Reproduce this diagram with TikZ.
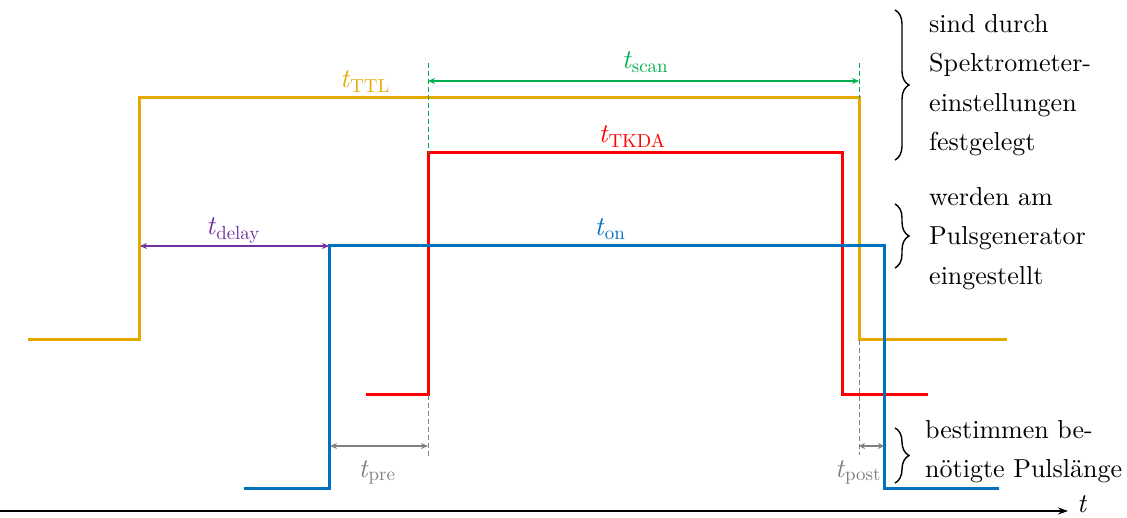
\documentclass[tikz,border=0pt]{standalone}
\usepackage{fontspec}
\setmainfont{lmroman10-regular.otf}[ItalicFont=lmroman10-italic.otf,BoldFont=lmroman10-bold.otf]
\usetikzlibrary{arrows.meta,decorations.pathreplacing}
\definecolor{ttlc}{RGB}{229,170,0}
\definecolor{tkdac}{RGB}{255,0,0}
\definecolor{onc}{RGB}{0,112,192}
\definecolor{scanc}{RGB}{0,176,80}
\definecolor{delayc}{RGB}{112,48,160}
\definecolor{greyc}{RGB}{128,128,128}
\newcommand{\tl}[1]{\textit{t}\textsubscript{#1}}
\begin{document}
\begin{tikzpicture}[x=1pt,y=-1pt,
  sig/.style={line width=3pt,line join=miter},
  dim/.style={line width=1.8pt,{Stealth[length=7pt,width=6pt]}-{Stealth[length=7pt,width=6pt]}},
  guide/.style={line width=0.9pt,dash pattern=on 5pt off 3pt},
  lbl/.style={font=\fontsize{27}{32}\selectfont,inner sep=0pt,anchor=base},
  note/.style={font=\fontsize{26}{39.5}\selectfont,align=left,inner sep=0pt,anchor=north west},
  brc/.style={line width=1.4pt,decorate,decoration={brace,amplitude=14pt}}]
\useasboundingbox (0,0) rectangle (1127,518);
% time axis
\coordinate (ax0) at (0,511);
\coordinate (ax1) at (1068,511);
\draw[line width=1.5pt,-{Stealth[length=10pt,width=7pt]}] (ax0) -- (ax1);
\node[lbl,anchor=base west] (tax) at (1077,512) {\textit{t}};
% TTL signal
\coordinate (y0) at (28,340); \coordinate (y1) at (139,340); \coordinate (y2) at (139,98);
\coordinate (y3) at (859,98); \coordinate (y4) at (859,340); \coordinate (y5) at (1007,340);
\draw[sig,ttlc] (y0) -- (y1) -- (y2) -- (y3) -- (y4) -- (y5);
% TKDA signal
\coordinate (r0) at (366,395); \coordinate (r1) at (428,395); \coordinate (r2) at (428,153);
\coordinate (r3) at (842,153); \coordinate (r4) at (842,395); \coordinate (r5) at (928,395);
\draw[sig,tkdac] (r0) -- (r1) -- (r2) -- (r3) -- (r4) -- (r5);
% on signal
\coordinate (b0) at (244,488); \coordinate (b1) at (329,488); \coordinate (b2) at (329,246);
\coordinate (b3) at (884,246); \coordinate (b4) at (884,488); \coordinate (b5) at (999,488);
\draw[sig,onc] (b0) -- (b1) -- (b2) -- (b3) -- (b4) -- (b5);
% scan guides and arrow
\coordinate (sg1) at (428,63); \coordinate (sg2) at (859,63);
\draw[guide,scanc] (sg1) -- (r2);
\draw[guide,scanc] (sg2) -- (y3);
\coordinate (sa1) at (428,81); \coordinate (sa2) at (859,81);
\draw[dim,scanc] (sa1) -- (sa2);
% delay arrow
\coordinate (da1) at (140,246);
\draw[dim,delayc] (da1) -- (b2);
% pre / post guides and arrows
\coordinate (pg) at (428,457); \coordinate (qg) at (859,455);
\draw[guide,greyc] (r1) -- (pg);
\draw[guide,greyc] (y4) -- (qg);
\coordinate (pa1) at (330,446); \coordinate (pa2) at (428,446);
\draw[dim,greyc] (pa1) -- (pa2);
\coordinate (qa1) at (859,446); \coordinate (qa2) at (884,446);
\draw[dim,greyc,{Stealth[length=6pt,width=6pt]}-{Stealth[length=6pt,width=6pt]}] (qa1) -- (qa2);
% labels
\node[lbl,text=ttlc] (lttl) at (365,88) {\tl{TTL}};
\node[lbl,text=scanc] (lscan) at (645,69) {\tl{scan}};
\node[lbl,text=tkdac] (ltkda) at (632,143) {\tl{TKDA}};
\node[lbl,text=onc] (lon) at (610,236) {\tl{on}};
\node[lbl,text=delayc] (ldelay) at (233,235) {\tl{delay}};
\node[lbl,text=greyc] (lpre) at (377,477) {\tl{pre}};
\node[lbl,text=greyc] (lpost) at (858,477) {\tl{post}};
% braces
\coordinate (br1a) at (895,10); \coordinate (br1b) at (895,160);
\draw[brc] (br1a) -- (br1b);
\coordinate (br2a) at (895,204); \coordinate (br2b) at (895,268);
\draw[brc] (br2a) -- (br2b);
\coordinate (br3a) at (895,428); \coordinate (br3b) at (895,483);
\draw[brc] (br3a) -- (br3b);
\node[note] (n1) at (929,14) {sind durch\\Spektrometer-\\einstellungen\\festgelegt};
\node[note] (n2) at (929,187) {werden am\\Pulsgenerator\\eingestellt};
\node[note] (n3) at (925,420) {bestimmen be-\\nötigte Pulslänge};
\end{tikzpicture}
\end{document}
